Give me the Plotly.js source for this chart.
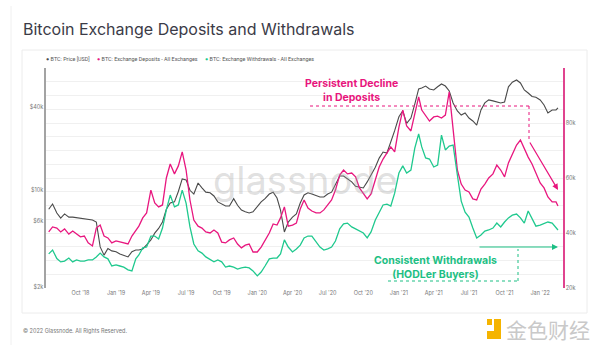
<!DOCTYPE html>
<html>
<head>
<meta charset="utf-8">
<script src="https://cdn.plot.ly/plotly-3.0.1.min.js"></script>
<style>
html,body{margin:0;padding:0;background:#fff;}
#chart{width:600px;height:352px;}
</style>
</head>
<body>
<div id="chart"></div>
<script>
// ---- Data ----
const dates = [
'2018-07-11','2018-07-21','2018-08-01','2018-08-11','2018-08-21','2018-09-01','2018-09-11','2018-09-21','2018-10-01','2018-10-11','2018-10-21','2018-11-01','2018-11-11','2018-11-21','2018-12-01','2018-12-11','2018-12-21',
'2019-01-01','2019-01-11','2019-01-21','2019-02-01','2019-02-11','2019-02-21','2019-03-01','2019-03-11','2019-03-21','2019-04-01','2019-04-11','2019-04-21','2019-05-01','2019-05-11','2019-05-21','2019-06-01','2019-06-11','2019-06-21','2019-07-01','2019-07-11','2019-07-21','2019-08-01','2019-08-11','2019-08-21','2019-09-01','2019-09-11','2019-09-21','2019-10-01','2019-10-11','2019-10-21','2019-11-01','2019-11-11','2019-11-21','2019-12-01','2019-12-11','2019-12-21',
'2020-01-01','2020-01-11','2020-01-21','2020-02-01','2020-02-11','2020-02-21','2020-03-01','2020-03-11','2020-03-21','2020-04-01','2020-04-11','2020-04-21','2020-05-01','2020-05-11','2020-05-21','2020-06-01','2020-06-11','2020-06-21','2020-07-01','2020-07-11','2020-07-21','2020-08-01','2020-08-11','2020-08-21','2020-09-01','2020-09-11','2020-09-21','2020-10-01','2020-10-11','2020-10-21','2020-11-01','2020-11-11','2020-11-21','2020-12-01','2020-12-11','2020-12-21',
'2021-01-01','2021-01-11','2021-01-21','2021-02-01','2021-02-11','2021-02-21','2021-03-01','2021-03-11','2021-03-21','2021-04-01','2021-04-11','2021-04-21','2021-05-01','2021-05-11','2021-05-21','2021-06-01','2021-06-11','2021-06-21','2021-07-01','2021-07-11','2021-07-21','2021-08-01','2021-08-11','2021-08-21','2021-09-01','2021-09-11','2021-09-21','2021-10-01','2021-10-11','2021-10-21','2021-11-01','2021-11-11','2021-11-21','2021-12-01','2021-12-11','2021-12-21',
'2022-01-01','2022-01-11','2022-01-21','2022-02-01','2022-02-11','2022-02-16'
];

const priceUSD = [
7300,7960,6860,6300,6750,6400,6400,6350,6300,6250,6200,6100,5900,3900,3400,3800,3650,
3600,3470,3400,3300,3600,3700,3700,3770,4030,4380,4900,5300,5900,7300,8100,8250,9800,12100,11900,10000,9400,11300,10400,9700,9600,9100,8250,7960,7700,7700,8700,7800,7200,7000,6860,7000,
7600,8250,8700,9400,9700,8800,7200,5000,5900,6400,6750,8100,9250,9600,9400,9100,8950,8950,9400,9700,10900,12700,12700,12100,11500,10700,10600,10400,11500,12900,14700,17100,18900,18600,22300,27000,
34000,37500,30500,33300,42000,54000,54900,56700,54000,53100,56000,58700,56700,52300,42800,37500,35000,36200,33300,31700,29600,38100,42800,45000,44300,43500,42800,43500,56000,60500,62700,59700,53100,50500,47700,47000,
45000,41400,36200,38100,38100,39400
];

const depositsBTC = [
40400,42200,41800,40400,41500,39600,40700,39600,38600,38900,36400,35300,41800,42900,38900,38200,36400,
37100,36700,36400,36000,38900,40700,42500,45500,47300,55600,50900,49500,50200,60000,65100,61500,64400,69500,62900,52000,44700,42500,41800,40400,40000,41100,40000,36700,36400,37500,38200,36000,34600,35600,36000,33100,
33100,34900,37500,40000,43300,42900,45500,49500,42500,42900,43600,48700,52000,49100,48000,47300,47300,48400,50200,52000,55600,61100,62900,61500,61800,60400,56400,54500,52400,54200,59300,64000,66900,69100,71300,69500,
78500,84700,78900,77100,83600,89500,84700,82900,80700,82200,82500,81800,82900,91300,77500,62900,57800,55600,54900,52400,52000,56000,57800,60000,61500,64700,62900,60400,65500,68700,72000,73800,70500,67600,65100,61800,
58200,56400,53100,51300,51300,49800
];

const withdrawalsBTC = [
32400,33800,30700,29500,29800,30900,29500,30200,29800,29800,30200,30200,31300,32700,31300,30600,28000,
28400,28000,27600,26600,26200,30600,32000,34600,34900,38900,38900,37800,41800,48400,53800,49500,50200,55600,50900,42200,36000,33500,32700,31300,30200,29500,30200,29500,27600,28000,27600,26900,27300,27600,27300,26200,
24400,25800,28000,30600,30900,30900,32400,37500,34900,33100,34200,35600,38200,38900,38900,36700,34900,33800,34200,34900,37100,41500,43300,43600,42200,41500,40700,40000,38200,40400,44700,47300,50200,50500,49800,54500,
61800,64400,61800,62900,70900,76000,71300,67300,66900,64000,64700,75600,70200,71600,72000,61100,51600,47600,45800,41800,38200,39300,40700,41100,41800,43600,42200,44000,45500,46500,46900,45500,43600,48000,45500,42500,
42900,43600,44000,43600,41800,41100
];

const xTickVals = ['2018-10-01','2019-01-01','2019-04-01','2019-07-01','2019-10-01','2020-01-01','2020-04-01','2020-07-01','2020-10-01','2021-01-01','2021-04-01','2021-07-01','2021-10-01','2022-01-01'];
const xTickText = ["Oct '18","Jan '19","Apr '19","Jul '19","Oct '19","Jan '20","Apr '20","Jul '20","Oct '20","Jan '21","Apr '21","Jul '21","Oct '21","Jan '22"];

const priceTickVals = [2000, 6000, 10000, 40000];
const priceTickText = ['$2k', '$6k', '$10k', '$40k'];

const flowGridVals = [20000,25000,30000,35000,40000,45000,50000,55000,60000,65000,70000,75000,80000,85000,90000,95000,100000];
const flowLabelVals = [20000, 40000, 60000, 80000];

const seriesNames = ['BTC: Price [USD]', 'BTC: Exchange Deposits - All Exchanges', 'BTC: Exchange Withdrawals - All Exchanges'];

// ---- Styling ----
const C_PRICE = '#4a4a4a';
const C_DEP = '#e8177f';
const C_WD = '#1fc98e';
const FONT = 'Inter, Roboto, "DejaVu Sans", sans-serif';

// page px -> paper helpers (plot area: x 46..563, y 68..288)
const L = 46, R = 37, T = 68, B = 64, W = 600, H = 352;
const PW = W - L - R, PH = H - T - B;
const px = v => (v - L) / PW;
const py = v => (H - B - v) / PH;

const traces = [
  {x: dates, y: priceUSD, name: seriesNames[0], type: 'scatter', mode: 'lines',
   line: {color: C_PRICE, width: 1.1}, yaxis: 'y'},
  {x: dates, y: depositsBTC, name: seriesNames[1], type: 'scatter', mode: 'lines',
   line: {color: C_DEP, width: 1.3}, yaxis: 'y2'},
  {x: dates, y: withdrawalsBTC, name: seriesNames[2], type: 'scatter', mode: 'lines',
   line: {color: C_WD, width: 1.3}, yaxis: 'y2'}
];

const flowTickText = flowGridVals.map(v => flowLabelVals.includes(v) ? (v/1000) + 'k' : '');

const legendItems = [
  {x: 44, c: C_PRICE, t: seriesNames[0]},
  {x: 95, c: C_DEP, t: seriesNames[1]},
  {x: 203, c: C_WD, t: seriesNames[2]}
];

const annotations = [];
legendItems.forEach(it => annotations.push({
  xref: 'paper', yref: 'paper', x: px(it.x), y: py(59), xanchor: 'left', yanchor: 'middle',
  showarrow: false, text: '<span style="color:' + it.c + '">●</span> ' + it.t,
  font: {family: 'Roboto, sans-serif', size: 5.4, color: '#555'}
}));

annotations.push(
  {xref: 'paper', yref: 'paper', x: px(305), y: py(180), xanchor: 'center', yanchor: 'middle', showarrow: false, text: 'glassnode',
   font: {family: FONT, size: 38, color: 'rgba(160,160,160,0.32)'}},
  {xref: 'paper', yref: 'paper', x: px(351), y: py(91), xanchor: 'center', yanchor: 'middle', showarrow: false,
   text: '<b>Persistent Decline<br>in Deposits</b>', align: 'center',
   font: {family: FONT, size: 10.5, color: '#e8157d'}},
  {xref: 'paper', yref: 'paper', x: px(435), y: py(267), xanchor: 'center', yanchor: 'middle', showarrow: false,
   text: '<b>Consistent Withdrawals<br>(HODLer Buyers)</b>', align: 'center',
   font: {family: FONT, size: 10.5, color: '#1dbf84'}},
  {xref: 'paper', yref: 'paper', x: px(558), y: py(190), ax: -29, ay: -49, axref: 'pixel', ayref: 'pixel',
   showarrow: true, arrowhead: 2, arrowsize: 1, arrowwidth: 1.2, arrowcolor: '#e8157d', text: ''},
  {xref: 'paper', yref: 'paper', x: px(558), y: py(247), ax: -80, ay: 0, axref: 'pixel', ayref: 'pixel',
   showarrow: true, arrowhead: 2, arrowsize: 1, arrowwidth: 1.2, arrowcolor: '#1dbf84', text: ''},
  {xref: 'paper', yref: 'paper', x: px(21), y: py(330), xanchor: 'left', yanchor: 'middle', showarrow: false,
   text: '© 2022 Glassnode. All Rights Reserved.', font: {family: FONT, size: 5.5, color: '#777'}},
  {xref: 'paper', yref: 'paper', x: px(504), y: py(329), xanchor: 'left', yanchor: 'middle', showarrow: false,
   text: '金色财经', font: {family: '"Noto Sans CJK SC", sans-serif', size: 21, color: '#c9c9c9'}}
);

const shapes = [
  // card border
  {type: 'rect', xref: 'paper', yref: 'paper', x0: px(22), x1: px(587), y0: py(313), y1: py(50),
   line: {color: '#ececec', width: 1}, layer: 'below'},
  // page border line left
  {type: 'line', xref: 'paper', yref: 'paper', x0: px(11), x1: px(11), y0: py(345), y1: py(6),
   line: {color: '#f0f0f0', width: 1}},
  // pink dotted guide
  {type: 'line', xref: 'paper', yref: 'paper', x0: px(310), x1: px(529), y0: py(106), y1: py(106),
   line: {color: '#e8157d', width: 1, dash: 'dot'}},
  {type: 'line', xref: 'paper', yref: 'paper', x0: px(529), x1: px(529), y0: py(106), y1: py(139),
   line: {color: '#e8157d', width: 1, dash: 'dot'}},
  // green dotted guide
  {type: 'line', xref: 'paper', yref: 'paper', x0: px(388), x1: px(518), y0: py(281), y1: py(281),
   line: {color: '#1dbf84', width: 1, dash: 'dot'}},
  {type: 'line', xref: 'paper', yref: 'paper', x0: px(518), x1: px(518), y0: py(281), y1: py(249),
   line: {color: '#1dbf84', width: 1, dash: 'dot'}},
  // logo mark
  {type: 'rect', xref: 'paper', yref: 'paper', x0: px(487), x1: px(492), y0: py(325), y1: py(319),
   fillcolor: '#f5b400', line: {width: 0}},
  {type: 'path', xref: 'paper', yref: 'paper',
   path: 'M ' + px(494) + ' ' + py(319) + ' L ' + px(501) + ' ' + py(319) + ' L ' + px(501) + ' ' + py(339) +
         ' L ' + px(487) + ' ' + py(339) + ' L ' + px(487) + ' ' + py(331) + ' L ' + px(494) + ' ' + py(331) + ' Z',
   fillcolor: '#f5b400', line: {width: 0}}
];

const layout = {
  width: W, height: H,
  margin: {l: L, r: R, t: T, b: B, pad: 0},
  paper_bgcolor: '#fff', plot_bgcolor: '#fff',
  showlegend: false,
  font: {family: FONT, color: '#777'},
  title: {text: 'Bitcoin Exchange Deposits and Withdrawals', xref: 'container', yref: 'container',
          x: 23 / W, xanchor: 'left', y: 1 - 29 / H, yanchor: 'middle',
          font: {family: FONT, size: 16, color: '#3b3b47'}},
  xaxis: {type: 'date', range: ['2018-07-04', '2022-03-01'], tickvals: xTickVals, ticktext: xTickText,
          showgrid: false, zeroline: false, showline: false, ticks: '',
          tickfont: {size: 5.5, color: '#777'}},
  yaxis: {type: 'log', range: [3.294, 4.884], tickvals: priceTickVals, ticktext: priceTickText,
          showgrid: false, zeroline: false, showline: true, linecolor: '#a3a3a3', linewidth: 1.6,
          ticks: '', tickfont: {size: 5.5, color: '#777'}},
  yaxis2: {overlaying: 'y', side: 'right', range: [20000, 100000], tickvals: flowGridVals, ticktext: flowTickText,
           showgrid: true, gridcolor: '#f0f0f0', gridwidth: 1, zeroline: false,
           showline: true, linecolor: '#e0448f', linewidth: 1.6, ticks: '',
           tickfont: {size: 5.5, color: '#777'}},
  annotations: annotations,
  shapes: shapes
};

Plotly.newPlot('chart', traces, layout, {displayModeBar: false, staticPlot: true});
</script>
</body>
</html>
